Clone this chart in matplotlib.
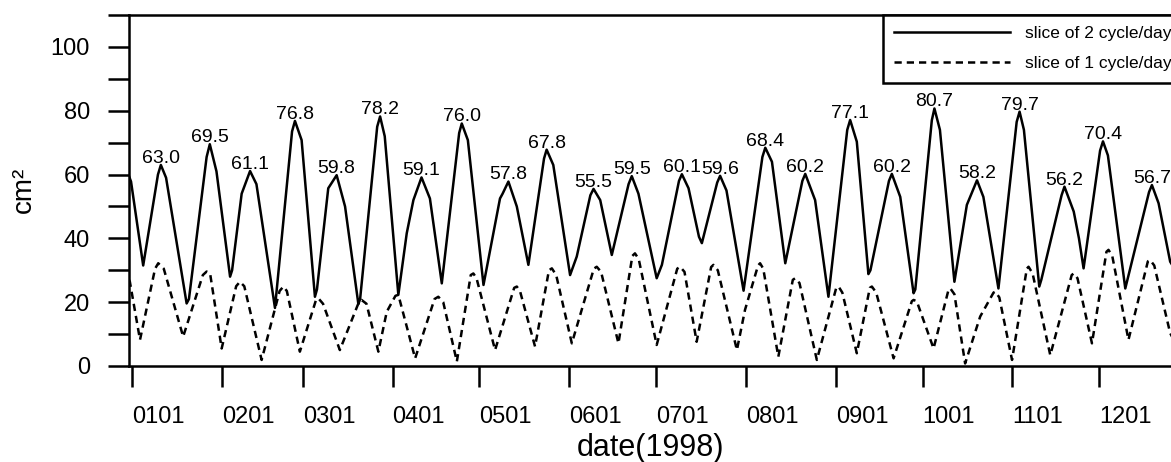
import numpy as np
import matplotlib.pyplot as plt
from matplotlib.ticker import MultipleLocator

plt.rcParams['font.family'] = ['Liberation Sans', 'DejaVu Sans']

# day of year (0 = 1998-01-01), values in cm^2

# labelled maxima of the 2 cycle/day slice
peak_days = [10.0, 26.9, 40.8, 56.3, 70.7, 85.7, 100.0, 113.9, 130.0, 143.2, 159.4, 172.6,
             189.9, 203.1, 218.7, 232.5, 248.0, 262.4, 277.1, 291.8, 306.5, 322.0, 335.3, 352.2]
peak_vals = [63.0, 69.5, 61.1, 76.8, 59.8, 78.2, 59.1, 76.0, 57.8, 67.8, 55.5, 59.5,
             60.1, 59.6, 68.4, 60.2, 77.1, 60.2, 80.7, 58.2, 79.7, 56.2, 70.4, 56.7]

# rest of the 2 cycle/day slice (troughs, shoulders)
solid_days = [-1, -0.3, 3.9, 9.0, 11.8, 18.9, 19.7, 25.8, 29.2, 33.9, 34.6, 37.9, 43.0,
              49.4, 55.3, 58.6, 63.2, 63.9, 67.8, 73.6, 78.2, 78.8, 84.7, 87.3, 92.0,
              94.9, 97.2, 102.9, 107.0, 113.0, 116.0, 121.4, 127.1, 128.0, 132.9, 136.9,
              142.3, 145.5, 151.3, 153.6, 158.3, 161.7, 165.7, 171.5, 174.9, 181.2, 183.0,
              188.9, 192.2, 195.8, 196.8, 202.1, 205.3, 211.2, 217.7, 221.0, 225.6, 231.5,
              235.9, 240.5, 247.0, 250.3, 254.3, 255.0, 261.4, 265.3, 269.9, 270.5, 276.2,
              279.0, 284.0, 288.3, 290.8, 294.0, 299.2, 305.5, 308.0, 313.3, 314.0, 321.0,
              325.2, 327.0, 328.6, 334.3, 337.0, 343.0, 351.2, 354.5, 358.5, 361.0]
solid_vals = [59.5, 57.8, 31.5, 60.0, 59.0, 19.6, 21.0, 65.5, 61.0, 28.0, 30.0, 54.0, 57.0,
              18.2, 73.5, 70.8, 21.7, 24.0, 55.7, 50.0, 19.4, 21.0, 75.0, 72.0, 22.3,
              41.6, 52.0, 52.5, 25.9, 73.0, 70.8, 25.4, 52.5, 54.0, 50.0, 31.7,
              65.0, 63.0, 28.5, 34.3, 53.5, 52.0, 34.8, 57.0, 54.0, 27.5, 31.7,
              58.0, 55.7, 40.5, 38.5, 57.5, 55.0, 23.6, 65.5, 64.0, 32.2, 58.0,
              52.0, 21.7, 74.0, 70.3, 28.8, 30.0, 58.0, 53.0, 22.8, 24.0, 77.0,
              74.0, 26.4, 50.5, 56.0, 53.0, 24.3, 76.5, 74.0, 24.9, 27.0, 53.5,
              48.4, 40.0, 30.6, 67.5, 66.0, 24.3, 54.5, 51.0, 32.7, 29.0]

# 1 cycle/day slice
dash_days = [-1, -0.7, 2.8, 8.0, 9.1, 11.0, 17.7, 24.5, 25.8, 27.0, 31.0, 36.0, 37.3, 38.8,
             44.8, 51.0, 52.3, 53.5, 58.0, 63.5, 64.4, 66.0, 71.8, 78.5, 79.3, 81.0, 85.1,
             88.0, 91.0, 92.0, 97.8, 104.5, 105.8, 107.5, 112.2, 117.0, 117.9, 119.0, 125.4,
             132.0, 132.9, 134.0, 139.2, 144.0, 145.0, 146.5, 151.9, 159.5, 160.5, 162.0,
             168.0, 172.8, 173.7, 175.0, 181.2, 188.3, 189.3, 190.8, 195.0, 200.0, 200.8,
             202.3, 208.9, 211.7, 216.2, 216.9, 218.0, 223.2, 228.2, 229.0, 230.5, 236.5,
             243.2, 244.0, 245.3, 250.3, 254.8, 255.5, 257.0, 263.0, 269.3, 269.9, 271.0,
             276.8, 282.0, 282.6, 284.0, 287.7, 292.9, 297.5, 298.1, 299.5, 303.9, 309.0,
             309.6, 311.0, 317.1, 324.5, 325.2, 326.5, 331.5, 336.5, 337.2, 338.5, 344.1,
             350.8, 351.6, 353.0, 358.5, 361.0]
dash_vals = [27.0, 26.4, 8.2, 30.5, 32.2, 30.5, 9.2, 28.5, 29.6, 29.0, 5.5, 25.0, 26.4, 25.0,
             1.9, 23.5, 24.9, 23.5, 4.5, 20.5, 21.2, 19.5, 5.0, 20.3, 20.7, 19.5, 4.5,
             17.0, 22.0, 22.3, 2.4, 21.0, 21.7, 20.0, 1.4, 28.5, 29.0, 27.5, 5.0,
             24.5, 24.9, 23.5, 6.1, 30.0, 30.6, 28.5, 7.1, 30.5, 31.1, 29.5,
             7.1, 34.5, 35.3, 33.5, 6.6, 30.5, 31.1, 29.5, 7.6, 31.0, 31.7,
             30.0, 5.0, 17.6, 31.5, 32.2, 30.5, 2.9, 27.0, 27.5, 26.0, 1.9,
             24.5, 24.9, 23.0, 4.0, 24.5, 24.9, 23.0, 2.4, 20.3, 20.7, 20.3,
             5.5, 24.0, 24.3, 22.5, 0.8, 15.5, 23.0, 23.3, 21.5, 1.9, 30.5,
             31.1, 29.0, 3.4, 28.5, 29.0, 27.5, 7.1, 35.8, 36.4, 34.5, 8.2,
             32.8, 33.2, 31.5, 10.3, 6.0]

tick_labels = ['0101', '0201', '0301', '0401', '0501', '0601',
               '0701', '0801', '0901', '1001', '1101', '1201']

months = np.arange('1998-01', '1999-01', dtype='datetime64[M]').astype('datetime64[D]')
tick_days = (months - np.datetime64('1998-01-01')).astype(int)

sx = np.concatenate([solid_days, peak_days])
sy = np.concatenate([solid_vals, peak_vals])
order = np.argsort(sx)

W, H = 1171, 462
fig = plt.figure(figsize=(W / 100, H / 100), dpi=100)
ax = fig.add_axes([129 / W, 96 / H, 1060 / W, 351 / H])

ax.plot(sx[order], sy[order], color='black', lw=1.8, label='slice of 2 cycle/day')
ax.plot(dash_days, dash_vals, color='black', lw=1.8, dashes=(2.9, 2.0),
        label='slice of 1 cycle/day')

for d, v in zip(peak_days, peak_vals):
    ax.annotate('%.1f' % v, (d, v), xytext=(0, 1.5), textcoords='offset points',
                ha='center', va='baseline', fontsize=14)

ax.set_xlim(-1, 365)
ax.set_ylim(0, 110)

ax.set_xticks(tick_days)
ax.set_xticklabels(tick_labels, ha='left')
ax.yaxis.set_major_locator(MultipleLocator(20))
ax.yaxis.set_minor_locator(MultipleLocator(10))

for s in ax.spines.values():
    s.set_linewidth(1.8)
ax.tick_params(axis='both', which='both', direction='out', length=15, width=1.8,
               labelsize=17)
ax.tick_params(axis='x', pad=13.5)
ax.tick_params(axis='y', pad=13)

fig.text(650 / W, 1 - 433 / H, 'date(1998)', ha='center', va='top', fontsize=22)
fig.text(24 / W, 1 - 190 / H, 'cm²', rotation=90, ha='center', va='center', fontsize=20)

leg = ax.legend(loc='upper left', bbox_to_anchor=(882.7 / W, 1 - 15 / H),
                bbox_transform=fig.transFigure, borderaxespad=0, fontsize=12.5,
                handlelength=6.7, handletextpad=0.85, borderpad=0.65, labelspacing=0.85,
                fancybox=False, edgecolor='black', framealpha=1)
leg.get_frame().set_linewidth(1.8)

fig.savefig('out.png', dpi=100)
